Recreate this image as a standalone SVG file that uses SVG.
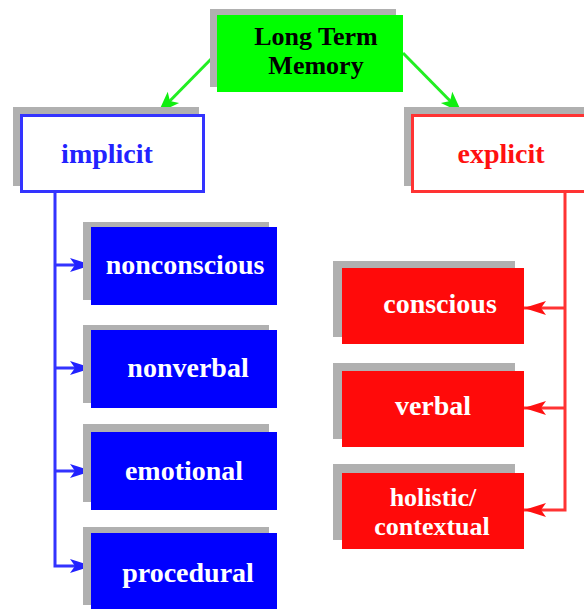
<svg xmlns="http://www.w3.org/2000/svg" width="584" height="609" viewBox="0 0 584 609">
<defs>
<style>
.sh{fill:#b0b0b0}
.t{font-family:"Liberation Serif","Times New Roman",serif;font-weight:bold;font-size:28px;text-anchor:middle}
.s{font-size:26px}
.w{fill:#ffffff}
.bl{fill:none;stroke:#3333ff;stroke-width:3}
.rl{fill:none;stroke:#ff3333;stroke-width:3}
.gl{fill:none;stroke:#22ee22;stroke-width:3}
</style>
<marker id="ab" markerUnits="userSpaceOnUse" markerWidth="24" markerHeight="16" refX="22" refY="8" orient="auto"><polygon points="0,1 22,8 0,15 5,8" fill="#2222ff"/></marker>
<marker id="ar" markerUnits="userSpaceOnUse" markerWidth="24" markerHeight="16" refX="22" refY="8" orient="auto"><polygon points="0,1 22,8 0,15 5,8" fill="#ff1111"/></marker>
<marker id="ag" markerUnits="userSpaceOnUse" markerWidth="24" markerHeight="18" refX="22" refY="9" orient="auto"><polygon points="0,1 22,9 0,17 5,9" fill="#11ee11"/></marker>
</defs>
<g id="connectors">
<line class="gl" x1="217" y1="53" x2="158" y2="113" marker-end="url(#ag)"/>
<line class="gl" x1="403" y1="53" x2="462" y2="113" marker-end="url(#ag)"/>
<polyline class="bl" points="55,192 55,566 92,566" marker-end="url(#ab)"/>
<line class="bl" x1="55" y1="265" x2="92" y2="265" marker-end="url(#ab)"/>
<line class="bl" x1="55" y1="368" x2="92" y2="368" marker-end="url(#ab)"/>
<line class="bl" x1="55" y1="471" x2="92" y2="471" marker-end="url(#ab)"/>
<polyline class="rl" points="565,192 565,510 524,510" marker-end="url(#ar)"/>
<line class="rl" x1="565" y1="308" x2="524" y2="308" marker-end="url(#ar)"/>
<line class="rl" x1="565" y1="408" x2="524" y2="408" marker-end="url(#ar)"/>
</g>
<g id="ltm">
<rect class="sh" x="210" y="9" width="186" height="78"/>
<rect x="217" y="15" width="186" height="77" fill="#00ff00"/>
<text class="t s" x="316" y="45" fill="#000">Long Term</text>
<text class="t s" x="316" y="74" fill="#000">Memory</text>
</g>
<g id="implicit">
<rect class="sh" x="13" y="107" width="186" height="79"/>
<rect x="21.5" y="115.5" width="182" height="76" fill="#fff" stroke="#3333ff" stroke-width="3"/>
<text class="t" x="107" y="163" fill="#2222ff">implicit</text>
</g>
<g id="explicit">
<rect class="sh" x="404" y="107" width="190" height="79"/>
<rect x="412.5" y="115.5" width="182" height="76" fill="#fff" stroke="#ff3333" stroke-width="3"/>
<text class="t" x="501" y="163" fill="#ff1111">explicit</text>
</g>
<g id="nonconscious">
<rect class="sh" x="83" y="222" width="186" height="78"/>
<rect x="91" y="227" width="186" height="78" fill="#0000ff"/>
<text class="t w" x="185" y="274">nonconscious</text>
</g>
<g id="nonverbal">
<rect class="sh" x="83" y="325" width="186" height="78"/>
<rect x="91" y="330" width="186" height="78" fill="#0000ff"/>
<text class="t w" x="188" y="377">nonverbal</text>
</g>
<g id="emotional">
<rect class="sh" x="83" y="424" width="186" height="78"/>
<rect x="91" y="432" width="186" height="78" fill="#0000ff"/>
<text class="t w" x="184" y="480">emotional</text>
</g>
<g id="procedural">
<rect class="sh" x="83" y="527" width="186" height="78"/>
<rect x="91" y="533" width="186" height="78" fill="#0000ff"/>
<text class="t w" x="188" y="582">procedural</text>
</g>
<g id="conscious">
<rect class="sh" x="333" y="261" width="182" height="76"/>
<rect x="342" y="268" width="182" height="76" fill="#ff0a0a"/>
<text class="t w" x="440" y="313">conscious</text>
</g>
<g id="verbal">
<rect class="sh" x="333" y="363" width="182" height="76"/>
<rect x="342" y="371" width="182" height="76" fill="#ff0a0a"/>
<text class="t w" x="433" y="415">verbal</text>
</g>
<g id="holistic">
<rect class="sh" x="333" y="464" width="182" height="76"/>
<rect x="342" y="473" width="182" height="76" fill="#ff0a0a"/>
<text class="t w s" x="433" y="506">holistic/</text>
<text class="t w s" x="432" y="535">contextual</text>
</g>
</svg>
